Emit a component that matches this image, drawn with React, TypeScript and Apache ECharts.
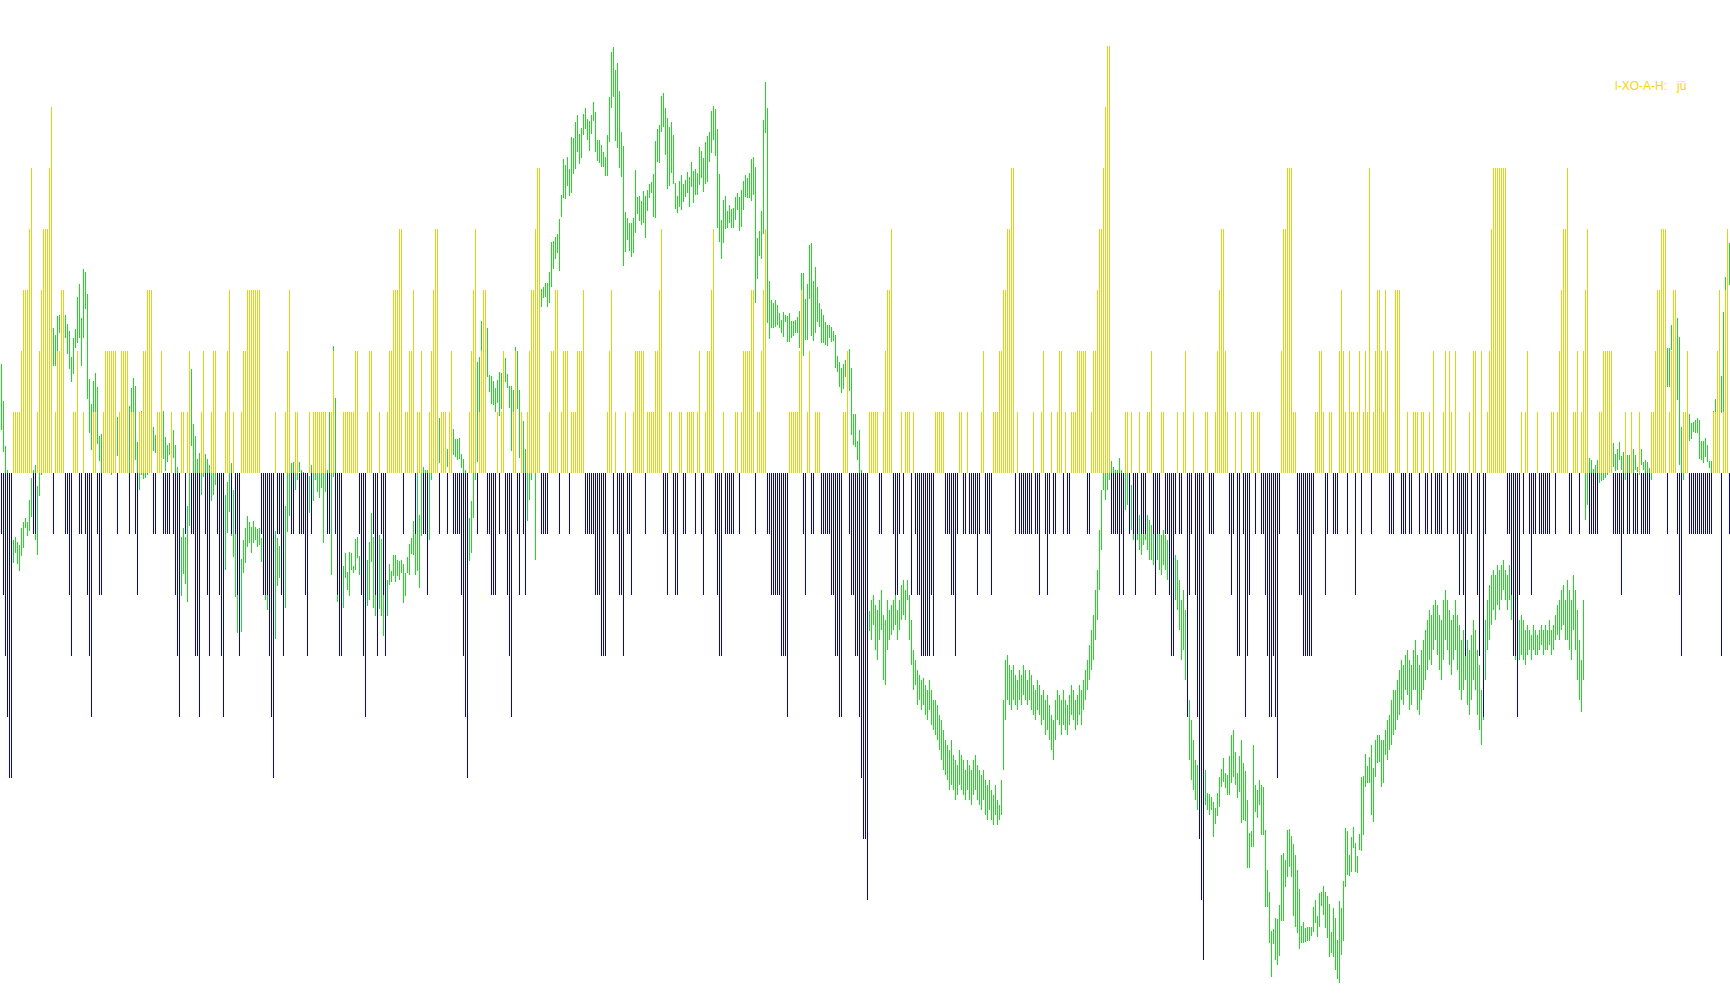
import React, { useEffect, useRef } from "react";
import * as echarts from "echarts";

// Oscillator histogram (integer levels), one value per bar
const histValues: number[] = [
  -1,-2,-3,-4,-5,-5,1,1,1,1,
  2,3,3,3,4,5,-1,-1,1,2,
  3,4,4,4,5,6,-1,1,2,2,
  3,3,-1,-1,-2,-3,1,1,2,-1,
  -1,1,-1,-2,-3,-4,1,1,-1,-2,
  -2,1,2,2,2,2,2,2,-1,1,
  2,2,2,2,-1,1,1,-1,-2,1,
  1,2,2,3,3,3,-1,-1,1,1,
  2,-1,-1,-1,-1,1,-1,-2,-3,-4,
  1,1,-1,1,2,-1,-1,-3,-3,-4,
  1,2,-1,-2,-3,1,2,2,-1,-2,
  -3,-4,1,2,3,-1,1,-1,-2,-3,
  1,2,2,3,3,3,3,3,3,3,
  -1,-2,-2,-2,-3,-4,-5,1,-1,-1,
  -2,-3,1,2,3,-1,-1,1,1,-1,
  -1,-1,-2,-3,1,-1,1,1,1,1,
  1,1,1,-1,-1,1,2,-1,-2,-3,
  -3,1,1,1,1,1,1,2,2,-1,
  -2,-3,-4,1,2,2,-1,-2,-3,1,
  -1,-2,-3,1,2,2,3,3,3,4,
  4,-1,1,1,2,2,3,-1,1,1,
  2,-1,-1,-2,1,2,3,4,4,-1,
  1,1,1,-1,1,2,-1,-1,-1,-1,
  -2,-3,-4,-5,1,2,3,4,-1,1,
  2,3,3,-1,-1,-2,-2,-2,1,-1,
  1,2,-1,-2,-3,-4,1,2,-1,-2,
  1,-1,-2,1,2,3,3,4,5,5,
  -1,-1,-1,-1,1,2,2,3,3,-1,
  1,2,2,2,-1,1,1,1,2,2,
  2,3,-1,-1,-1,-1,-1,-2,-2,-2,
  -3,-3,-3,1,2,3,-1,1,-1,-2,
  -2,-3,1,-1,-1,-2,1,2,2,2,
  2,2,-1,1,1,1,1,2,2,3,
  4,-1,-1,-2,1,1,-1,-2,-2,1,
  1,-1,-1,1,1,1,1,-1,1,2,
  -1,-2,1,2,2,3,4,-1,-2,-3,
  -3,1,-1,-1,-1,-1,-1,1,1,-1,
  1,2,2,2,2,3,3,-1,1,1,
  2,3,4,-1,-1,-2,-2,-2,-2,-2,
  -3,-3,-3,-4,1,1,1,1,1,2,
  3,-1,-2,1,2,-1,-1,1,1,1,
  -1,-1,-1,-1,-1,-2,-2,-3,-3,-4,
  -4,1,1,2,-1,-2,-2,-3,-3,-4,
  -5,-6,-6,-7,1,1,1,1,1,-1,
  -1,1,2,3,3,4,-1,-2,-2,-1,
  1,-1,1,1,1,-2,1,-1,-2,-2,
  -3,-3,-3,-3,-3,-2,-3,1,1,1,
  1,1,-1,-1,-1,-2,-2,-3,-1,1,
  1,-1,-1,1,-1,-1,-1,-1,-2,-1,
  1,2,-1,-1,-1,-2,1,1,1,2,
  2,3,3,4,4,5,5,-1,1,-1,
  -1,-1,-1,-1,-1,-1,1,-1,-1,-2,
  1,2,-1,-2,-1,1,-1,-1,1,2,
  2,-1,1,-1,-1,1,1,1,2,2,
  2,2,2,-1,-1,1,2,2,3,4,
  4,5,6,7,7,-1,-1,-1,-1,-2,
  -1,-2,1,1,-1,1,-1,-2,-1,1,
  -1,-1,-1,1,1,2,-1,-2,-1,-1,
  1,1,-1,-1,-2,-3,-3,-1,1,-1,
  -1,1,2,-4,-2,-1,1,-2,-4,-6,
  -7,-8,1,1,-1,-1,-1,1,2,3,
  4,4,2,1,-1,-2,-1,1,-3,-3,
  1,-1,-4,-3,-2,1,1,-1,1,1,
  -1,-1,-2,-3,-4,-4,-3,-4,-5,-1,
  2,4,4,5,5,5,1,1,-1,-2,
  -2,-3,-3,-3,-3,-3,-1,1,1,2,
  2,1,-2,-1,1,1,-1,-1,-1,2,
  3,2,1,-1,2,1,1,-2,1,2,
  -1,1,2,1,5,-1,1,2,3,3,
  2,1,3,2,-1,-1,-1,3,3,3,
  -1,-1,-1,1,-1,-1,1,1,1,-1,
  1,1,-1,-1,1,-1,2,-1,-1,-1,
  -1,1,2,-1,2,1,-1,2,-1,-2,
  -1,-2,-3,-1,1,-1,2,2,-2,-3,
  2,-4,-1,1,2,4,5,5,5,5,
  5,5,5,-1,-1,-2,-3,-3,-4,-2,
  1,-1,1,2,-1,-2,-1,-1,1,-1,
  -1,-1,-1,-1,-1,1,1,-1,1,2,
  3,4,4,5,-1,-1,1,1,2,-1,
  1,2,3,4,-1,-1,-1,-1,-1,1,
  1,2,2,2,2,2,-1,-1,-1,-1,
  -2,-1,1,-1,-1,1,-1,-1,-1,1,
  -1,-1,-1,-1,-1,1,1,2,3,3,
  4,4,4,-1,1,2,3,3,-1,-2,
  -3,1,1,2,-1,-1,-1,-1,-1,-1,
  -1,-1,-1,-1,-1,-1,1,1,2,3,
  -3,1,3,4,-1
];

// Price bars: [upper, lower] on a downward "depth" price scale (0 = top of range)
const priceBarsA: number[][] = [
  [364,430],[401,452],[446,478],[470,520],[500,560],[530,575],[540,563],[537,553],[542,564],[545,571],
  [528,556],[522,548],[518,528],[522,536],[500,531],[478,517],[470,500],[465,540],[486,555],[473,496],
  [440,475],[400,450],[380,420],[350,400],[340,380],[330,370],[328,366],[335,366],[316,351],[315,333],
  [320,345],[330,350],[315,338],[324,354],[331,369],[357,382],[338,374],[329,348],[297,343],[284,338],
  [318,366],[269,338],[272,309],[294,399],[379,433],[404,450],[381,412],[373,412],[387,444],[436,461],
  [434,475],[440,470],[445,472],[438,465],[442,470],[448,475],[440,468],[430,460],[417,456],[420,455],
  [425,460],[430,465],[420,458],[415,450],[406,473],[388,412],[378,412],[386,460],[442,490],[460,490],
  [411,475],[472,479],[450,478],[445,475],[440,470],[435,468],[427,451],[435,453],[425,455],[420,450],
  [415,455],[411,459],[437,471],[445,462],[443,455],[440,460],[430,458],[445,473],[467,480],[500,560],
  [537,596],[528,574],[537,584],[506,602],[460,526],[369,446],[424,490],[436,490],[459,490],[453,490],
  [460,495],[460,477],[454,477],[459,490],[465,480],[472,501],[472,495],[472,485],[480,520],[490,540],
  [500,560],[510,570],[495,570],[482,533],[472,512],[463,536],[490,557],[493,597],[557,633],[560,620],
  [559,632],[540,573],[528,563],[516,547],[522,543],[527,553],[521,543],[527,540],[529,547],[528,545],
  [538,562],[545,580],[550,600],[560,610],[570,620],[570,630],[560,640],[531,639],[538,586],[546,578],
  [520,560],[500,550],[506,608],[472,532],[472,516]
];

const priceBarsB: number[][] = [
  [463,475],[462,490],[460,490],[460,480],[462,472],[470,478],[472,500],[475,505],[476,510],[476,513],
  [465,480],[473,501],[473,480],[473,492],[473,498],[473,488],[473,543],[473,492],[470,500],[412,473],
  [460,575],[346,477],[398,480],[540,602],[560,610],[570,610],[566,608],[553,578],[572,590],[552,596],
  [553,570],[566,573],[539,570],[537,558],[556,575],[545,590],[550,600],[555,605],[560,606],[542,600],
  [513,562],[537,608],[547,616],[545,610],[535,609],[539,616],[547,636],[560,625],[580,616],[564,585],
  [571,582],[555,576],[555,582],[560,576],[561,580],[560,573],[564,603],[573,596],[557,573],[544,575],
  [538,554],[521,555],[515,575],[472,571],[515,588],[472,536],[467,533],[470,520],[470,515],[472,540],
  [450,480],[440,470],[430,465],[425,460],[418,463],[430,460],[440,465],[445,468],[449,467],[440,465],
  [435,462],[429,455],[439,457],[439,460],[438,459],[454,468],[459,473],[470,500],[480,520],[518,561],
  [501,553],[472,518],[420,480],[362,462],[357,412],[321,351],[300,330],[290,320],[328,377],[375,392],
  [376,404],[381,405],[388,412],[380,403],[372,416],[373,409],[355,380],[358,382],[374,388],[386,408],
  [386,451],[390,440],[347,400],[351,409],[390,458],[420,460],[421,473],[449,473],[460,521],[440,500],
  [400,480],[360,450],[290,560],[260,300],[270,300],[289,307],[287,298],[283,297],[283,307],[272,303],
  [242,287],[241,269],[237,259],[234,253],[219,271],[195,217],[159,198],[165,199],[157,186],[169,196],
  [137,193],[138,174],[122,169],[115,152],[134,164]
];

const priceBarsC: number[][] = [
  [128,158],[114,135],[108,129],[119,140],[121,151],[115,134],[102,121],[112,152],[140,161],[140,163],
  [145,167],[152,167],[157,176],[135,176],[97,142],[52,108],[47,97],[70,141],[63,148],[91,168],
  [132,177],[146,266],[212,252],[218,240],[223,251],[223,257],[218,253],[170,233],[197,214],[196,221],
  [201,225],[191,223],[196,238],[190,211],[184,198],[182,193],[174,217],[141,218],[129,162],[125,163],
  [96,132],[93,127],[108,155],[118,189],[127,186],[122,173],[135,184],[183,209],[196,213],[181,207],
  [175,210],[184,202],[180,197],[172,193],[177,207],[162,187],[171,203],[169,195],[173,195],[147,185],
  [151,178],[158,192],[142,184],[136,182],[132,162],[111,153],[106,140],[109,156],[129,228],[174,242],
  [220,259],[200,243],[196,229],[211,228],[205,223],[209,228],[208,228],[197,220],[193,210],[197,231],
  [190,227],[181,210],[175,197],[178,198],[173,198],[159,201],[157,195],[167,303],[238,279],[231,256],
  [211,259],[120,234],[82,133],[108,323],[281,339],[300,328],[303,328],[300,327],[305,325],[313,328],
  [320,333],[312,337],[315,322],[316,342],[313,342],[321,338],[321,336],[320,333],[317,333],[311,348],
  [273,341],[273,356],[299,340],[284,340],[245,299],[243,336],[281,341],[267,333],[287,322],[303,327],
  [309,343],[315,343],[322,345],[325,346],[325,338],[327,342],[331,341],[335,368],[356,372],[362,387],
  [368,393],[364,389],[360,377],[351,385],[349,391],[368,435],[414,445],[414,447],[441,460],[430,473],
  [470,540],[520,580],[560,620],[580,630],[611,631]
];

const priceBarsD: number[][] = [
  [600,640],[595,625],[605,650],[610,660],[600,640],[590,630],[615,680],[620,685],[600,650],[610,640],
  [605,635],[600,630],[595,625],[610,640],[600,630],[585,620],[580,615],[590,620],[580,600],[595,640],
  [620,665],[650,690],[660,685],[670,705],[675,700],[680,710],[678,705],[685,715],[690,720],[680,710],
  [690,725],[700,730],[700,735],[705,740],[715,750],[720,760],[730,770],[740,775],[745,780],[750,790],
  [740,785],[755,790],[760,800],[765,795],[750,785],[755,790],[760,795],[770,800],[760,790],[765,800],
  [770,805],[760,795],[755,790],[765,800],[770,805],[775,810],[770,800],[780,815],[785,820],[780,810],
  [790,820],[795,825],[785,815],[800,825],[805,820],[780,815],[700,770],[660,720],[655,700],[665,705],
  [670,710],[665,700],[675,705],[680,710],[670,700],[675,705],[665,695],[670,700],[680,705],[670,700],
  [675,710],[685,715],[690,720],[680,710],[685,715],[695,725],[690,720],[700,735],[695,730],[705,740],
  [715,750],[720,760],[700,740],[690,720],[695,725],[700,735],[690,725],[700,730],[705,735],[695,725],
  [685,715],[690,720],[700,730],[695,725],[685,715],[690,725],[680,710],[670,700],[660,690],[645,680],
  [630,670],[615,660],[590,640],[570,620],[530,590],[490,550],[460,490],[470,500],[455,490],[440,480],
  [461,490],[467,495],[470,500],[470,505],[458,490],[470,515],[480,520],[473,510],[473,505],[480,525],
  [485,530],[500,540],[510,545],[505,540],[515,550],[520,555],[510,545],[505,540],[515,550],[520,560],
  [525,560],[530,565],[520,555],[525,560],[530,570]
];

const priceBarsE: number[][] = [
  [535,575],[530,565],[535,570],[540,580],[545,585],[540,580],[545,590],[555,600],[560,610],[580,630],
  [600,660],[590,650],[610,680],[640,700],[700,760],[720,780],[740,790],[760,800],[765,810],[770,815],
  [760,800],[765,805],[770,805],[793,810],[794,815],[797,810],[802,837],[808,824],[793,816],[777,807],
  [769,787],[758,782],[773,788],[775,795],[756,795],[735,783],[730,777],[752,785],[773,798],[756,792],
  [740,823],[763,820],[771,821],[800,868],[833,868],[831,847],[745,847],[785,812],[790,818],[780,805],
  [785,835],[787,835],[830,907],[870,907],[892,943],[931,977],[929,944],[918,960],[919,965],[905,956],
  [855,921],[853,921],[860,887],[830,877],[829,867],[836,877],[844,916],[855,927],[870,933],[889,949],
  [926,943],[922,943],[928,942],[927,941],[927,941],[927,936],[907,932],[900,923],[916,937],[893,927],
  [892,906],[886,915],[892,928],[896,938],[904,957],[932,953],[908,957],[918,970],[940,979],[901,983],
  [908,955],[881,941],[828,887],[831,875],[855,876],[837,872],[827,848],[843,872],[856,873],[834,850],
  [777,851],[776,835],[754,787],[766,783],[757,783],[745,815],[768,822],[740,777],[735,763],[735,762],
  [740,787],[740,783],[730,755],[720,760],[715,750],[700,745],[690,735],[690,730],[680,720],[670,715],
  [660,700],[665,705],[655,690],[650,695],[660,710],[665,705],[650,690],[640,690],[655,710],[665,715],
  [650,700],[640,690],[630,680],[620,670],[610,660],[615,665],[605,650],[600,640],[605,655],[615,670],
  [620,680],[600,660],[590,640],[600,650],[610,665],[620,675],[615,660],[600,650],[615,670],[625,690],
  [640,700],[630,690],[620,680],[640,705],[650,715],[635,700],[620,680],[630,690],[650,715],[665,730],
  [690,745],[660,720],[620,680],[600,650],[585,640],[575,625],[570,610],[575,620],[565,605],[570,610],
  [565,600],[560,590],[570,600],[575,610],[565,600],[580,620],[590,640],[600,660],[610,670],[620,660],
  [615,655],[620,660],[630,665],[625,655],[630,650],[635,660],[625,650],[630,655],[635,655],[630,650],
  [625,645],[630,655],[625,650],[630,650],[620,645],[630,655],[625,650],[615,640],[605,635],[600,640],
  [590,630],[585,625],[600,640],[580,640],[590,650],[600,660],[575,630],[590,650],[610,680],[640,700],
  [660,712],[600,680],[470,520],[460,505],[458,480],[460,480],[469,480],[465,480],[460,480],[473,483],
  [473,481],[470,480],[465,478],[462,475],[455,470],[450,468],[443,467],[454,471],[449,470],[442,460],
  [456,470],[452,498],[460,480],[455,498],[455,475],[450,470],[449,473],[455,470],[467,472],[460,475],
  [449,465],[462,470],[460,475],[462,478],[468,480],[460,480],[440,470],[420,455],[400,440],[380,420],
  [370,410],[360,400],[355,395],[348,387],[348,387],[325,350],[320,345],[300,360],[318,400],[337,465],
  [427,500],[420,480],[415,460],[410,445],[414,441],[423,439],[422,432],[420,433],[418,433],[420,459],
  [441,460],[441,463],[438,457],[445,462],[461,468],[461,488],[411,440],[399,412],[385,410],[376,405],
  [376,413],[312,413],[277,337],[243,290],[243,285]
];

const legendMain = "l-XO-A-H:";
const legendTail = "jü";

const UP_COLOR = "#F5CA10";
const DOWN_COLOR = "#0000E6";
const PRICE_COLOR = "#18E018";
const LEGEND_COLOR = "#F8D40A";

export default function App() {
  const ref = useRef<HTMLDivElement>(null);

  useEffect(() => {
    if (!ref.current) return;
    const chart = echarts.init(ref.current, null, { renderer: "svg" });
    const priceBars = [...priceBarsA, ...priceBarsB, ...priceBarsC, ...priceBarsD, ...priceBarsE];
    const n = histValues.length;
    const categories = histValues.map((_, i) => String(i));
    const histData = histValues.map((v, i) => [i, v]);
    const priceData = priceBars.slice(0, n).map((r, i) => [i, r[0], r[1]]);

    chart.setOption({
      animation: false,
      backgroundColor: "#ffffff",
      grid: { left: 0, right: 0, top: 0, bottom: 0 },
      xAxis: { type: "category", data: categories, show: false, boundaryGap: true },
      yAxis: [
        { type: "value", min: -8.73, max: 7.755, show: false },
        { type: "value", min: 0, max: 1005, inverse: true, show: false },
      ],
      series: [
        {
          type: "custom",
          yAxisIndex: 1,
          z: 1,
          progressive: 0,
          data: priceData,
          encode: { x: 0, y: [1, 2] },
          renderItem: (params: any, api: any) => {
            const i = api.value(0);
            const a = api.coord([i, api.value(1)]);
            const b = api.coord([i, api.value(2)]);
            const x = Math.floor(a[0] + 0.01);
            const y1 = Math.round(Math.min(a[1], b[1]));
            const y2 = Math.round(Math.max(a[1], b[1]));
            return {
              type: "rect",
              shape: { x, y: y1, width: 1, height: Math.max(1, y2 - y1) },
              style: { fill: PRICE_COLOR },
            };
          },
        },
        {
          type: "custom",
          yAxisIndex: 0,
          z: 2,
          progressive: 0,
          data: histData,
          encode: { x: 0, y: 1 },
          renderItem: (params: any, api: any) => {
            const i = api.value(0);
            const v = api.value(1);
            const p0 = api.coord([i, 0]);
            const p1 = api.coord([i, v]);
            const x = Math.floor(p0[0] + 0.01);
            const y0 = Math.round(p0[1]);
            const y1 = Math.round(p1[1]);
            return {
              type: "rect",
              shape: { x, y: Math.min(y0, y1), width: 1, height: Math.abs(y1 - y0) },
              style: { fill: v >= 0 ? UP_COLOR : DOWN_COLOR },
            };
          },
        },
      ],
      graphic: [
        {
          type: "text",
          left: 1615,
          top: 80,
          z: 10,
          style: { text: legendMain, fill: LEGEND_COLOR, font: '12px "Liberation Sans", Arial, sans-serif' },
        },
        {
          type: "text",
          left: 1677,
          top: 80,
          z: 10,
          style: { text: legendTail, fill: LEGEND_COLOR, font: '12px "Liberation Sans", Arial, sans-serif' },
        },
      ],
    });

    return () => chart.dispose();
  }, []);

  return (
    <div
      ref={ref}
      style={{ position: "fixed", left: 0, top: 0, width: 1730, height: 1005, background: "#ffffff" }}
    />
  );
}
